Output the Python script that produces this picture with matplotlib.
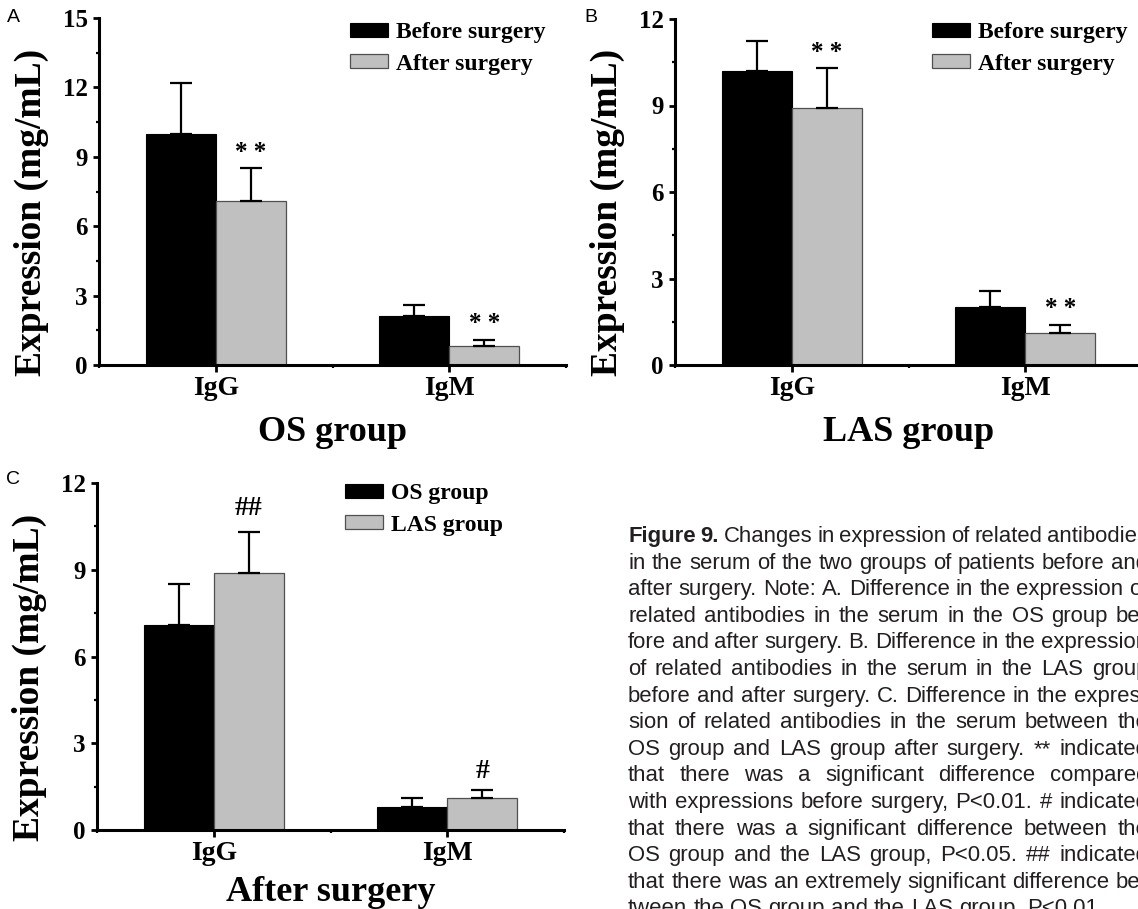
import numpy as np
import matplotlib.pyplot as plt
from matplotlib.ticker import MultipleLocator, FixedLocator

plt.rcParams['font.family'] = ['Liberation Serif', 'DejaVu Serif']
plt.rcParams['font.weight'] = 'bold'

W, H = 1138, 909  # figure size in pixels

cats = ['IgG', 'IgM']

# OS group, before / after surgery (mean, upper error)
os_before = [10.0, 2.1]
os_before_err = [2.2, 0.5]
os_after = [7.1, 0.8]
os_after_err = [1.4, 0.3]

# LAS group, before / after surgery
las_before = [10.2, 2.0]
las_before_err = [1.05, 0.55]
las_after = [8.9, 1.1]
las_after_err = [1.4, 0.3]

marks_ab = ['* *', '* *']
marks_c = ['##', '#']

caption_lines = [
    "Figure 9. Changes in expression of related antibodies",
    "in the serum of the two groups of patients before and",
    "after surgery. Note: A. Difference in the expression of",
    "related antibodies in the serum in the OS group be-",
    "fore and after surgery. B. Difference in the expression",
    "of related antibodies in the serum in the LAS group",
    "before and after surgery. C. Difference in the expres-",
    "sion of related antibodies in the serum between the",
    "OS group and LAS group after surgery. ** indicated",
    "that there was a significant difference compared",
    "with expressions before surgery, P<0.01. # indicated",
    "that there was a significant difference between the",
    "OS group and the LAS group, P<0.05. ## indicated",
    "that there was an extremely significant difference be-",
    "tween the OS group and the LAS group, P<0.01.",
]

fig = plt.figure(figsize=(W / 100, H / 100), dpi=100)


def px_axes(left, top, right, bottom):
    return fig.add_axes([left / W, 1 - bottom / H, (right - left) / W, (bottom - top) / H])


def panel(ax, s1, e1, s2, e2, names, marks, mark_off, ymax, xlabel, xlpad, leg_xy):
    x = np.arange(1, len(cats) + 1)
    w = 0.3
    ek = dict(ecolor='black', elinewidth=1.6, capthick=1.6)
    ax.bar(x - w / 2, s1, w, color='black', edgecolor='black', linewidth=0.8,
           yerr=[np.zeros(len(s1)), e1], capsize=8, error_kw=ek, label=names[0])
    ax.bar(x + w / 2, s2, w, color='#c0c0c0', edgecolor='#505050', linewidth=0.9,
           yerr=[np.zeros(len(s2)), e2], capsize=8, error_kw=ek, label=names[1])
    for xi, top, m, off in zip(x + w / 2, np.add(s2, e2), marks, mark_off):
        ax.annotate(m, (xi, top), xytext=(0, off), textcoords='offset points',
                    ha='center', va='bottom', fontsize=18 if '*' in m else 20,
                    fontweight='bold')

    ax.set_xlim(0.5, 2.5)
    ax.set_ylim(0, ymax)
    ax.set_xticks(x)
    ax.set_xticklabels(cats)
    ax.xaxis.set_minor_locator(FixedLocator([0.5, 1.5, 2.5]))
    ax.yaxis.set_major_locator(MultipleLocator(3))
    ax.yaxis.set_minor_locator(MultipleLocator(1.5))
    for sp in ['top', 'right']:
        ax.spines[sp].set_visible(False)
    for sp in ['left', 'bottom']:
        ax.spines[sp].set_linewidth(2.2)
    ax.tick_params(which='major', direction='out', width=2, length=4)
    ax.tick_params(which='minor', direction='out', width=1.6, length=2.5)
    ax.tick_params(axis='y', labelsize=18, pad=4)
    ax.tick_params(axis='x', which='major', labelsize=20, pad=3, length=5)
    ax.set_ylabel('Expression (mg/mL)', fontsize=27, fontweight='bold')
    ax.yaxis.set_label_coords(-0.107, 0.44)
    ax.set_xlabel(xlabel, fontsize=26, fontweight='bold', labelpad=xlpad)

    ax.legend(loc='upper left', bbox_to_anchor=(leg_xy[0] / W, 1 - leg_xy[1] / H),
              bbox_transform=fig.transFigure, frameon=False,
              prop={'family': 'Liberation Serif', 'weight': 'bold', 'size': 17},
              handlelength=1.6, handleheight=0.55, handletextpad=0.35,
              labelspacing=0.45, borderpad=0, borderaxespad=0)


axA = px_axes(99, 18, 566, 365)
axB = px_axes(675, 19, 1142, 365)
axC = px_axes(97, 483, 564, 830)

panel(axA, os_before, os_before_err, os_after, os_after_err,
      ['Before surgery', 'After surgery'], marks_ab, [3, 3], 15, 'OS group', 11, (350, 22))
panel(axB, las_before, las_before_err, las_after, las_after_err,
      ['Before surgery', 'After surgery'], marks_ab, [3, 3], 12, 'LAS group', 11, (932, 22))
panel(axC, os_after, os_after_err, las_after, las_after_err,
      ['OS group', 'LAS group'], marks_c, [8, 4], 12, 'After surgery', 7, (345, 483))

# panel letters
for lx, ly, lt in [(13, 17, 'A'), (591, 17, 'B'), (13, 479, 'C')]:
    fig.text(lx / W, 1 - ly / H, lt, family='Liberation Sans', fontweight='normal',
             fontsize=14, ha='center', va='center')

# caption, justified word by word
rend = fig.canvas.get_renderer()
cap_family = 'Liberation Sans'
cap_color = '#231f20'


def text_w(s, size, weight='normal'):
    t = fig.text(0, 0, s, fontsize=size, fontweight=weight, family=cap_family)
    wd = t.get_window_extent(rend).width
    t.remove()
    return wd


cap_size = 10 * 519 / text_w(caption_lines[13], 10)
space_w = text_w('x x', cap_size) - text_w('xx', cap_size)
cap_left, cap_right = 628, 1148
base0, step = 542, 26.6

for i, line in enumerate(caption_lines):
    words = line.split(' ')
    weights = ['bold' if (i == 0 and j < 2) else 'normal' for j in range(len(words))]
    widths = [text_w(wd, cap_size, wt) for wd, wt in zip(words, weights)]
    if i < len(caption_lines) - 1 and len(words) > 1:
        gap = (cap_right - cap_left - sum(widths)) / (len(words) - 1)
    else:
        gap = space_w
    xpos = cap_left
    for wd, wt, ww in zip(words, weights, widths):
        fig.text(xpos / W, 1 - (base0 + i * step) / H, wd, fontsize=cap_size,
                 fontweight=wt, family=cap_family, color=cap_color,
                 ha='left', va='baseline')
        xpos += ww + gap

fig.savefig('out.png', dpi=100)
